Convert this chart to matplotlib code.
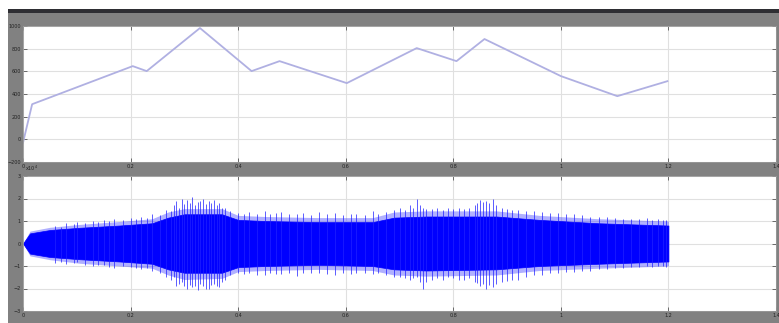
import matplotlib.pyplot as plt
from matplotlib.patches import Rectangle
import numpy as np

# upper trace (breakpoints of the piecewise signal)
t_top = [0.0, 0.017, 0.204, 0.230, 0.329, 0.425, 0.477, 0.602, 0.732, 0.806, 0.858, 1.0, 1.105, 1.198]
v_top = [-30, 310, 646, 602, 982, 602, 690, 496, 805, 690, 885, 558, 381, 513]

# lower trace: dense core of the oscillation
t_env = [0.0, 0.013, 0.05, 0.106, 0.18, 0.24, 0.27, 0.30, 0.37, 0.40, 0.45, 0.55, 0.65, 0.69, 0.75, 0.88, 0.96, 1.07, 1.198, 1.2]
env_hi = [0.0, 0.45, 0.6, 0.7, 0.8, 0.9, 1.15, 1.3, 1.3, 1.05, 1.0, 0.95, 0.95, 1.15, 1.2, 1.2, 1.05, 0.9, 0.8, 0.8]
env_lo = [0.0, -0.45, -0.6, -0.7, -0.8, -0.9, -1.15, -1.3, -1.3, -1.05, -1.0, -0.95, -1.0, -1.15, -1.2, -1.15, -1.0, -0.9, -0.8, -0.8]

# ragged outer fringe around the core
out_hi = [0.0, 0.55, 0.72, 0.85, 0.98, 1.1, 1.4, 1.55, 1.55, 1.25, 1.2, 1.15, 1.15, 1.4, 1.45, 1.45, 1.25, 1.1, 1.0, 1.0]
out_lo = [0.0, -0.55, -0.72, -0.88, -1.0, -1.1, -1.4, -1.6, -1.55, -1.25, -1.2, -1.15, -1.2, -1.4, -1.45, -1.4, -1.2, -1.1, -1.0, -1.0]

# peaks sticking out of the envelope
spike_t = [0.06, 0.07, 0.08, 0.095, 0.10, 0.115, 0.13, 0.14, 0.15, 0.16, 0.17, 0.185, 0.20, 0.21,
           0.22, 0.23, 0.24, 0.255, 0.265, 0.275, 0.28, 0.285, 0.29, 0.295, 0.30, 0.305, 0.31,
           0.315, 0.32, 0.325, 0.33, 0.335, 0.34, 0.345, 0.35, 0.355, 0.36, 0.365, 0.37, 0.375,
           0.385, 0.40, 0.41, 0.42, 0.435, 0.45, 0.46, 0.47, 0.48, 0.495, 0.51, 0.52, 0.535,
           0.55, 0.565, 0.58, 0.595, 0.61, 0.62, 0.635, 0.65, 0.66, 0.675, 0.69, 0.70, 0.71,
           0.72, 0.725, 0.732, 0.738, 0.743, 0.75, 0.76, 0.77, 0.78, 0.79, 0.80, 0.81, 0.82,
           0.83, 0.84, 0.845, 0.849, 0.855, 0.86, 0.866, 0.873, 0.88, 0.89, 0.90, 0.91, 0.92,
           0.935, 0.95, 0.965, 0.98, 0.995, 1.01, 1.025, 1.04, 1.055, 1.07, 1.085, 1.10, 1.115,
           1.13, 1.145, 1.16, 1.17, 1.18, 1.19, 1.195]
spike_hi = [0.8, 0.75, 0.9, 0.85, 0.95, 0.9, 1.0, 0.95, 1.05, 1.0, 1.1, 1.05, 1.15, 1.1,
            1.2, 1.15, 1.3, 1.25, 1.5, 1.45, 1.7, 1.9, 1.6, 2.0, 1.75, 1.95, 1.8,
            2.05, 1.7, 1.85, 1.9, 2.0, 1.75, 1.9, 1.8, 1.95, 1.7, 1.8, 1.6, 1.6,
            1.45, 1.35, 1.3, 1.4, 1.3, 1.45, 1.3, 1.35, 1.4, 1.3, 1.3, 1.35, 1.25,
            1.4, 1.3, 1.35, 1.25, 1.3, 1.3, 1.25, 1.45, 1.3, 1.4, 1.5, 1.6, 1.5,
            1.7, 1.6, 2.0, 1.7, 1.6, 1.55, 1.55, 1.6, 1.5, 1.6, 1.55, 1.6, 1.55,
            1.6, 1.7, 1.8, 1.95, 1.85, 1.9, 1.8, 2.0, 1.7, 1.6, 1.55, 1.5, 1.5,
            1.45, 1.45, 1.4, 1.35, 1.35, 1.3, 1.3, 1.25, 1.2, 1.2, 1.2, 1.15, 1.1,
            1.1, 1.1, 1.15, 1.05, 1.1, 1.05, 1.05]
spike_lo = [-0.85, -0.8, -0.9, -0.85, -0.8, -0.95, -1.0, -0.95, -0.95, -1.05, -1.1, -1.0, -1.05, -1.1,
            -1.15, -1.1, -1.2, -1.3, -1.5, -1.6, -1.5, -1.9, -1.8, -1.7, -1.9, -2.0, -1.85,
            -1.95, -1.9, -2.05, -1.8, -1.9, -2.0, -2.0, -1.85, -1.8, -1.9, -1.95, -1.7, -1.6,
            -1.4, -1.3, -1.35, -1.3, -1.4, -1.4, -1.3, -1.35, -1.35, -1.3, -1.45, -1.3, -1.3,
            -1.3, -1.35, -1.4, -1.3, -1.35, -1.3, -1.3, -1.35, -1.3, -1.4, -1.5, -1.5, -1.55,
            -1.6, -1.55, -1.5, -1.7, -2.0, -1.7, -1.6, -1.55, -1.6, -1.5, -1.55, -1.6, -1.6,
            -1.55, -1.7, -1.75, -1.9, -1.8, -2.0, -1.85, -1.95, -1.8, -1.7, -1.65, -1.6, -1.6,
            -1.5, -1.4, -1.4, -1.3, -1.3, -1.25, -1.25, -1.2, -1.2, -1.15, -1.15, -1.1, -1.1,
            -1.05, -1.05, -1.0, -1.05, -1.0, -1.0, -1.05]

x_ticks = [0, 0.2, 0.4, 0.6, 0.8, 1, 1.2, 1.4]
x_labels = ['0', '0.2', '0.4', '0.6', '0.8', '1', '1.2', '1.4']
top_ticks = [-200, 0, 200, 400, 600, 800, 1000]
bot_ticks = [-3, -2, -1, 0, 1, 2, 3]

W, H = 779, 323
fig = plt.figure(figsize=(W / 100, H / 100), dpi=100)
fig.patch.set_facecolor('white')

# scope window frame
fig.patches.append(Rectangle((8 / W, 0), 1 - 8 / W, (H - 12) / H, transform=fig.transFigure,
                             facecolor='#818181', edgecolor='none', zorder=-10))
fig.patches.append(Rectangle((8 / W, (H - 12.5) / H), 1 - 8 / W, 3.5 / H, transform=fig.transFigure,
                             facecolor='#2e2e33', edgecolor='none', zorder=-10))

ax1 = fig.add_axes([23 / W, (H - 162) / H, 753 / W, 136 / H])
ax2 = fig.add_axes([23 / W, (H - 311) / H, 753 / W, 135 / H])

ax1.plot(t_top, v_top, color='#b0b0e2', lw=1.3)
ax1.set_ylim(-200, 1000)
ax1.set_yticks(top_ticks)

ax2.fill_between(t_env, out_lo, out_hi, color='#3a3aff', alpha=0.4, lw=0)
ax2.vlines(spike_t, spike_lo, spike_hi, color='#2020ff', lw=0.6, alpha=0.85)
ax2.fill_between(t_env, env_lo, env_hi, color='#0000ff', lw=0.5, edgecolor='#0000ff')
ax2.set_ylim(-3, 3)
ax2.set_yticks(bot_ticks)
ax2.text(0.002, 1.02, 'x10$^{4}$', transform=ax2.transAxes, fontsize=3.5, color='#222222',
         va='bottom', ha='left')

for ax in (ax1, ax2):
    ax.set_xlim(0, 1.4)
    ax.set_xticks(x_ticks)
    ax.set_xticklabels(x_labels)
    ax.set_facecolor('white')
    ax.grid(True, color='#e0e0e0', lw=0.8)
    ax.set_axisbelow(True)
    ax.tick_params(direction='in', length=3, width=0.6, colors='#555555', labelcolor='#222222',
                   labelsize=3.5, pad=1.5, top=True, right=True)
    for s in ax.spines.values():
        s.set_color('#9a9a9a')
        s.set_linewidth(0.6)

fig.savefig('out.png', dpi=100)
